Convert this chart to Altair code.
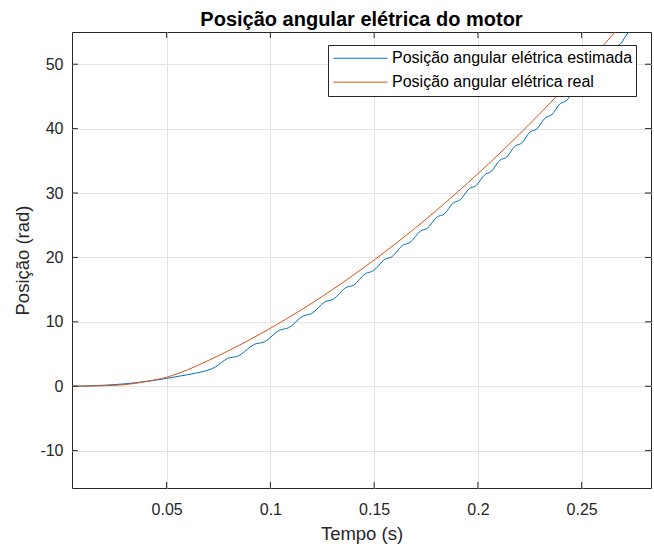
import altair as alt
import pandas as pd

# ---- data ----
series = ["Posição angular elétrica estimada", "Posição angular elétrica real"]
colors = ["#0072BD", "#D95319"]

t_real = [0.0044, 0.01, 0.02, 0.03, 0.04, 0.045, 0.05, 0.055, 0.06, 0.07, 0.08, 0.09,
          0.10, 0.11, 0.12, 0.13, 0.14, 0.15, 0.16, 0.17, 0.18, 0.19, 0.20, 0.21,
          0.22, 0.23, 0.24, 0.25, 0.26, 0.27, 0.28, 0.29]
v_real = [0.0, 0.01, 0.08, 0.25, 0.72, 1.02, 1.4, 1.92, 2.54, 3.98, 5.54, 7.22,
          9.0, 10.9, 12.9, 15.02, 17.26, 19.6, 22.06, 24.62, 27.3, 30.1, 33.0, 36.02,
          39.14, 42.38, 45.74, 49.2, 52.78, 56.46, 60.26, 64.2]

t_est = [0.0044, 0.01, 0.02, 0.03, 0.04, 0.05, 0.055, 0.06, 0.065, 0.07, 0.0735, 0.0765,
         0.0793, 0.0845, 0.0923, 0.0971, 0.1045, 0.1089, 0.1157, 0.1199, 0.1263, 0.1303,
         0.1363, 0.1401, 0.1459, 0.1495, 0.1551, 0.1585, 0.1638, 0.1672, 0.1723, 0.1755,
         0.1804, 0.1836, 0.1883, 0.1913, 0.1959, 0.1989, 0.2035, 0.2063, 0.2106, 0.2136,
         0.2179, 0.2209, 0.2252, 0.2282, 0.2326, 0.2354, 0.2397, 0.2425, 0.2466, 0.2492,
         0.2532, 0.2558, 0.2597, 0.2623, 0.2662, 0.2686, 0.2724, 0.2748, 0.2784, 0.2808,
         0.2843, 0.2867]
v_est = [0.0, 0.04, 0.16, 0.38, 0.74, 1.22, 1.5, 1.78, 2.1, 2.5, 3.0, 3.7,
         4.3, 4.7, 6.5, 6.9, 8.7, 9.1, 10.9, 11.3, 13.1, 13.5,
         15.3, 15.7, 17.5, 17.9, 19.7, 20.1, 21.9, 22.3, 24.1, 24.5,
         26.3, 26.7, 28.5, 28.9, 30.7, 31.1, 32.9, 33.3, 35.1, 35.5,
         37.3, 37.7, 39.5, 39.9, 41.7, 42.1, 43.9, 44.3, 46.1, 46.5,
         48.3, 48.7, 50.5, 50.9, 52.7, 53.1, 54.9, 55.3, 57.1, 57.5,
         59.3, 59.7]

x_ticks = [0.05, 0.1, 0.15, 0.2, 0.25]
y_ticks = [-10, 0, 10, 20, 30, 40, 50]
x_domain = [0.0044, 0.2834]
y_domain = [-15.8, 55]

# ---- build tables ----
df_est = pd.DataFrame({"t": t_est, "v": v_est, "serie": series[0], "i": range(len(t_est))})
df_real = pd.DataFrame({"t": t_real, "v": v_real, "serie": series[1], "i": range(len(t_real))})
df_xt = pd.DataFrame({"t": x_ticks})
df_yt = pd.DataFrame({"v": y_ticks})

W, H = 579, 456
TL = 6
AX = "#262626"
FONT = "Liberation Sans"

xs = alt.Scale(domain=x_domain, nice=False, zero=False)
ys = alt.Scale(domain=y_domain, nice=False, zero=False)
cs = alt.Scale(domain=series, range=colors)

legend = alt.Legend(
    title=None, orient="none", legendX=256, legendY=13,
    symbolType="stroke", symbolSize=2916, symbolStrokeWidth=1,
    clipHeight=20.5, rowPadding=2.9, padding=3, symbolOffset=2, labelOffset=4,
    labelFontSize=16, labelFont=FONT, labelColor="black", labelLimit=500,
    fillColor="white", strokeColor=AX,
)
color_enc = alt.Color("serie:N", scale=cs, legend=legend)

x_axis = alt.Axis(values=x_ticks, labelExpr="'' + datum.value", ticks=False, tickSize=0,
                  domain=False, grid=True, gridColor="#e3e3e3", labelFontSize=16,
                  labelFont=FONT, labelColor=AX, labelPadding=13, title="Tempo (s)",
                  titleFontSize=18.5, titleFont=FONT, titleFontWeight="normal",
                  titleColor=AX, titlePadding=7)
y_axis = alt.Axis(values=y_ticks, labelExpr="'' + datum.value", ticks=False, tickSize=0,
                  domain=False, grid=True, gridColor="#e3e3e3", labelFontSize=16,
                  labelFont=FONT, labelColor=AX, labelPadding=9, title="Posição (rad)",
                  titleFontSize=18.5, titleFont=FONT, titleFontWeight="normal",
                  titleColor=AX, titlePadding=7)

X = alt.X("t:Q", scale=xs, axis=x_axis)
Y = alt.Y("v:Q", scale=ys, axis=y_axis)

base_est = alt.Chart(df_est).mark_line(strokeWidth=1, clip=True, interpolate="monotone").encode(
    x=X, y=Y, color=color_enc, order="i:Q")
base_real = alt.Chart(df_real).mark_line(strokeWidth=1, clip=True, interpolate="monotone").encode(
    x=X, y=Y, color=color_enc, order="i:Q")

xt_bottom = alt.Chart(df_xt).mark_rule(color=AX, strokeWidth=1).encode(
    x=X, y=alt.value(H), y2=alt.value(H - TL))
xt_top = alt.Chart(df_xt).mark_rule(color=AX, strokeWidth=1).encode(
    x=X, y=alt.value(0), y2=alt.value(TL))
yt_left = alt.Chart(df_yt).mark_rule(color=AX, strokeWidth=1).encode(
    y=Y, x=alt.value(0), x2=alt.value(TL))
yt_right = alt.Chart(df_yt).mark_rule(color=AX, strokeWidth=1).encode(
    y=Y, x=alt.value(W), x2=alt.value(W - TL))

chart = alt.layer(base_est, base_real, xt_bottom, xt_top, yt_left, yt_right).properties(
    width=W, height=H,
    padding={"left": 72, "top": 32, "right": 3, "bottom": 56},
    autosize=alt.AutoSizeParams(type="none"),
    title=alt.TitleParams("Posição angular elétrica do motor", fontSize=20, fontWeight="bold",
                          font=FONT, anchor="middle", offset=7, baseline="alphabetic",
                          color="black", dy=21),
    background="white",
).configure_view(stroke=AX, strokeWidth=1)

chart.save("out.html", embed_options={"renderer": "svg", "actions": False})
